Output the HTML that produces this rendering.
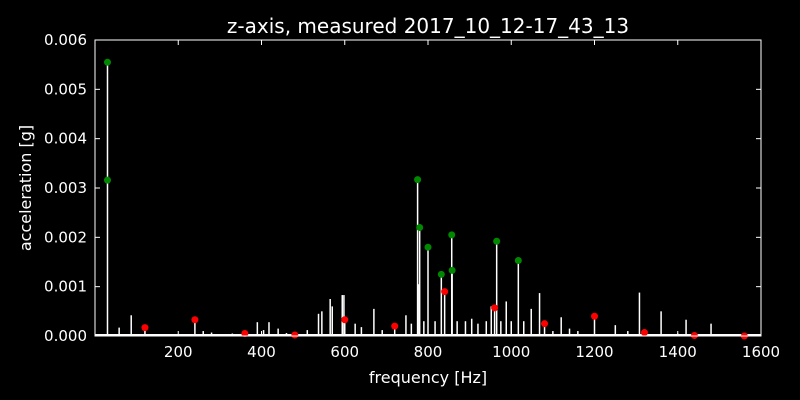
<!DOCTYPE html>
<html><head><meta charset="utf-8"><style>
body{margin:0;background:#000;}
svg{display:block;font-family:"DejaVu Sans","Liberation Sans",sans-serif;}
</style></head><body>
<svg id="chart" width="800" height="400">
<rect width="800" height="400" fill="#000"/>
<text x="428" y="33" fill="#fff" font-size="20" text-anchor="middle">z-axis, measured 2017_10_12-17_43_13</text>
<text x="428" y="383" fill="#fff" font-size="16" text-anchor="middle">frequency [Hz]</text>
<text transform="translate(31,188) rotate(-90)" fill="#fff" font-size="16" text-anchor="middle">acceleration [g]</text>
<g id="marks"></g>
<g id="axes"></g>
</svg>
<script>
const freqs=[30,58,87,110,120,150,180,210,240,260,280,300,330,355,360,390,405,418,440,460,480,510,537,545,565,570,594,598,600,625,640,670,690,720,747,760,775,778,780,790,800,817,832,840,857,858,870,890,905,920,940,952,960,965,975,988,1000,1017,1030,1048,1068,1080,1100,1120,1140,1160,1200,1250,1280,1308,1320,1360,1400,1420,1440,1480,1520,1560];
const amps=[0.00555,0.00017,0.00042,0.00003,0.00017,0.00002,0.00003,0.00002,0.00033,0.0001,0.00007,0.00003,0.00005,0.00006,0.00005,0.00028,0.00012,0.00028,0.00015,0.00006,0.00002,0.00012,0.00045,0.0005,0.00075,0.0006,0.00083,0.00083,0.0003,0.00025,0.00018,0.00055,0.00012,0.0002,0.00042,0.00025,0.00317,0.00105,0.0022,0.0003,0.0018,0.0003,0.00125,0.0009,0.00205,0.00133,0.0003,0.0003,0.00035,0.00025,0.0003,0.0006,0.00057,0.00192,0.0003,0.0007,0.0003,0.00153,0.0003,0.00055,0.00087,0.00025,0.0001,0.00038,0.00015,0.0001,0.0004,0.00022,0.0001,0.00088,0.00005,0.0005,0.00005,0.00033,0.00001,0.00025,0.00004,0.00001];
const redF=[120,240,360,480,600,720,840,960,1080,1200,1320,1440,1560];
const redA=[0.00017,0.00033,0.00005,0.00002,0.00033,0.0002,0.0009,0.00057,0.00025,0.0004,0.00007,0.00001,0.0];
const greenF=[30,30,775,780,800,832,857,858,965,1017];
const greenA=[0.00555,0.00316,0.00317,0.0022,0.0018,0.00125,0.00205,0.00133,0.00192,0.00153];
const xTicks=[200,400,600,800,1000,1200,1400,1600];
const yTicks=[0,0.001,0.002,0.003,0.004,0.005,0.006];
const yLabels=["0.000","0.001","0.002","0.003","0.004","0.005","0.006"];

const L=95,R=761,T=40,B=336;
const X=f=>L+(f/1600)*(R-L);
const Y=v=>B-(v/0.006)*(B-T);
const NS='http://www.w3.org/2000/svg';
const marks=document.getElementById('marks'),axes=document.getElementById('axes');
function mk(tag,attrs,parent){const e=document.createElementNS(NS,tag);for(const k in attrs)e.setAttribute(k,attrs[k]);parent.appendChild(e);return e;}
const base=mk('line',{x1:L,x2:R,y1:B-1,y2:B-1,stroke:'#fff','stroke-width':2},marks);


freqs.forEach((f,i)=>{
 const l=mk('line',{x1:X(f),x2:X(f),y1:B,y2:Y(amps[i]),stroke:'#fff','stroke-width':1.5},marks);
 
 
});
redF.forEach((f,i)=>{
 const c=mk('circle',{cx:X(f),cy:Y(redA[i]),r:3.5,fill:'#f00'},marks);
 
 
});
greenF.forEach((f,i)=>{
 const c=mk('circle',{cx:X(f),cy:Y(greenA[i]),r:3.5,fill:'#080'},marks);
 
 
});
const fr=mk('rect',{x:L,y:T,width:R-L,height:B-T,fill:'none',stroke:'#fff','stroke-width':1},axes);


xTicks.forEach(t=>{
 const x=X(t);
 mk('line',{x1:x,x2:x,y1:B,y2:B-5,stroke:'#fff'},axes);
 mk('line',{x1:x,x2:x,y1:T,y2:T+5,stroke:'#fff'},axes);
 const tx=mk('text',{x:x,y:B+21,fill:'#fff','font-size':15,'text-anchor':'middle'},axes);
 tx.textContent=t;
 
 
});
yTicks.forEach((t,i)=>{
 const y=Y(t);
 mk('line',{x1:L,x2:L+5,y1:y,y2:y,stroke:'#fff'},axes);
 mk('line',{x1:R,x2:R-5,y1:y,y2:y,stroke:'#fff'},axes);
 const tx=mk('text',{x:L-8,y:y+5,fill:'#fff','font-size':15,'text-anchor':'end'},axes);
 tx.textContent=yLabels[i];
 
 
});
</script>
</body></html>
